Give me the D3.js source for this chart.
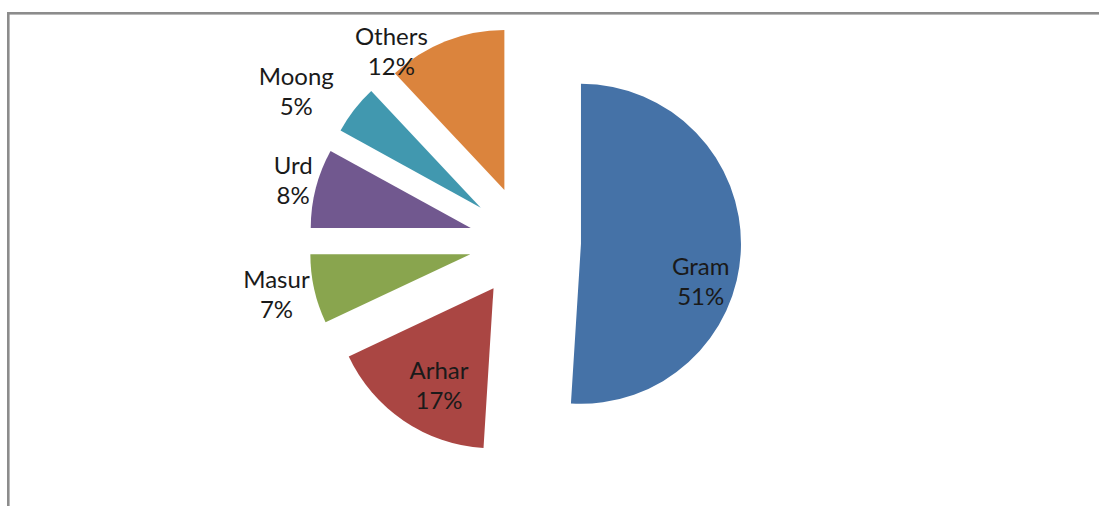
<!DOCTYPE html>
<html>
<head>
<meta charset="utf-8">
<script src="https://cdn.jsdelivr.net/npm/d3@7"></script>
<style>
  html, body { margin: 0; padding: 0; background: #fff; }
  svg { display: block; }
  text { font-family: Lato, "Open Sans", sans-serif; fill: #1a1a1a; }
</style>
</head>
<body>
<svg id="chart" width="1099" height="506"></svg>
<script>
// Share of pulses production by crop (%)
const categories = ["Gram", "Arhar", "Masur", "Urd", "Moong", "Others"];
const shares = [51, 17, 7, 8, 5, 12];
const colors = ["#4572a7", "#aa4643", "#89a54e", "#71588f", "#4198af", "#db843d"];

// Layout
const W = 1099, H = 506;
const cx = 525, cy = 242;     // pie centre before slices are pulled out
const radius = 160;
const explode = 56;           // how far each slice is pulled out along its bisector
// label placement: angle (deg, clockwise from 12 o'clock) and distance from the pie centre
const labelAngle = [102.5, 211, 258.1, 285, 303.4, 325];
const labelDist = [180, 167, 254, 240, 274, 233];
const fontSize = 24, lineGap = 30;

const svg = d3.select("#chart");

// chart-area frame (only the top and left edges fall inside the view)
svg.append("rect")
  .attr("x", 8.3).attr("y", 13.3)
  .attr("width", W + 20).attr("height", H + 20)
  .attr("fill", "none")
  .attr("stroke", "#8c8c8c")
  .attr("stroke-width", 2.6);

const pie = d3.pie().sort(null).value(d => d).startAngle(0).endAngle(2 * Math.PI);
const arcs = pie(shares);
const arc = d3.arc().innerRadius(0).outerRadius(radius);

const g = svg.append("g").attr("transform", `translate(${cx},${cy})`);

g.selectAll("path.slice")
  .data(arcs)
  .join("path")
  .attr("class", "slice")
  .attr("d", arc)
  .attr("fill", (d, i) => colors[i])
  .attr("transform", d => {
    const mid = (d.startAngle + d.endAngle) / 2;
    return `translate(${explode * Math.sin(mid)},${-explode * Math.cos(mid)})`;
  });

// two-line data labels: category name and percentage
const labels = g.selectAll("text.lbl")
  .data(arcs)
  .join("text")
  .attr("class", "lbl")
  .attr("text-anchor", "middle")
  .attr("font-size", fontSize)
  .attr("transform", (d, i) => {
    const a = labelAngle[i] * Math.PI / 180;
    const x = labelDist[i] * Math.sin(a);
    const y = -labelDist[i] * Math.cos(a);
    return `translate(${x},${y})`;
  });

labels.append("tspan")
  .attr("x", 0)
  .attr("y", -lineGap / 2 + 9)
  .text((d, i) => categories[i]);

labels.append("tspan")
  .attr("x", 0)
  .attr("y", lineGap / 2 + 9)
  .text(d => d3.format(".0f")(d.value) + "%");
</script>
</body>
</html>
